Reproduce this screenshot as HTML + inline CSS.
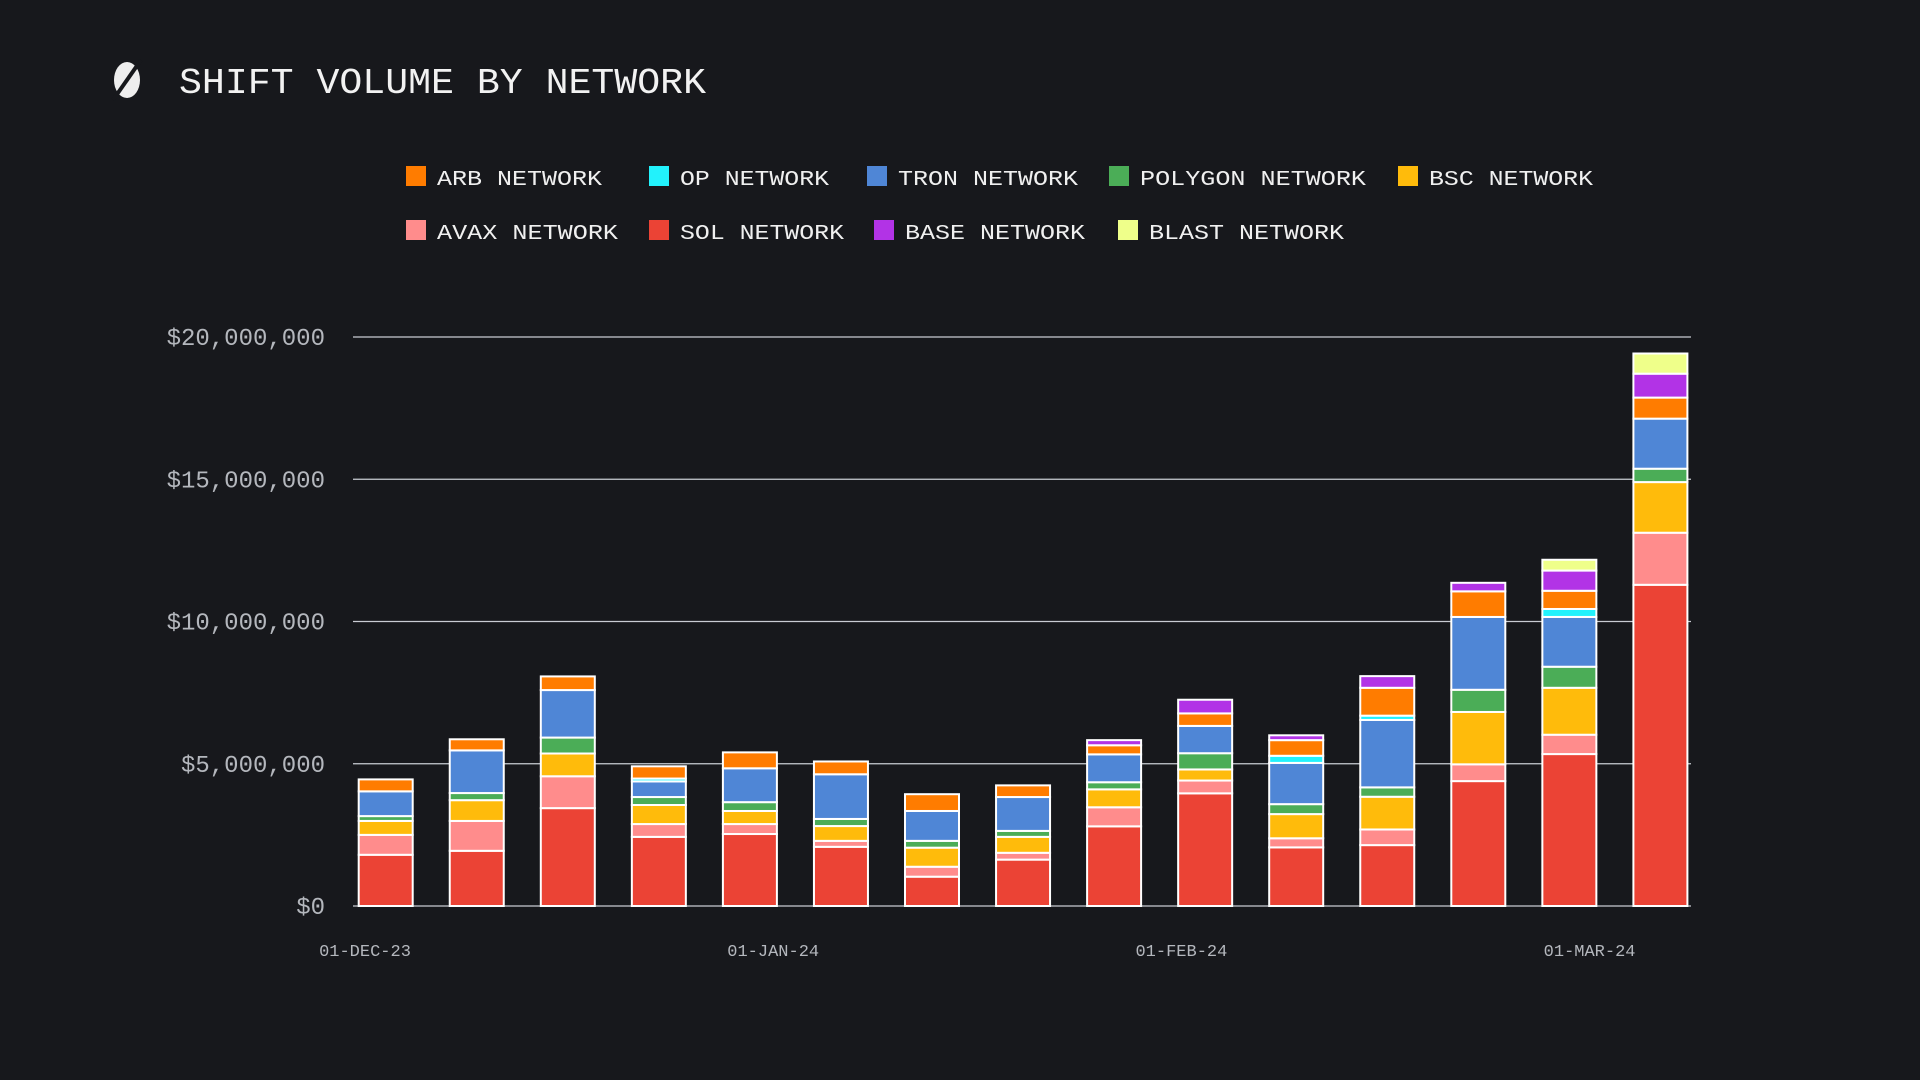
<!DOCTYPE html>
<html><head><meta charset="utf-8"><style>
html,body{margin:0;padding:0;background:#17181c;width:1920px;height:1080px;overflow:hidden}
svg text{font-family:"Liberation Mono","DejaVu Sans Mono",monospace}
</style></head><body>
<svg id="chart" width="1920" height="1080" viewBox="0 0 1920 1080" xmlns="http://www.w3.org/2000/svg">
<rect width="1920" height="1080" fill="#17181c"/>
<g>
<ellipse cx="127" cy="80" rx="13" ry="18" fill="#eeeeee"/>
<line x1="113" y1="100" x2="141" y2="60" stroke="#17181c" stroke-width="4"/>
</g>
<text x="179" y="93" font-size="36" fill="#f2f2f2" textLength="527" lengthAdjust="spacingAndGlyphs">SHIFT VOLUME BY NETWORK</text>
<g id="legend"></g>
<g id="grid"></g>
<g id="bars"></g>
<g id="axes"></g>
</svg>
<script>
const seriesNames = ["SOL NETWORK","AVAX NETWORK","BSC NETWORK","POLYGON NETWORK","TRON NETWORK","OP NETWORK","ARB NETWORK","BASE NETWORK","BLAST NETWORK"];
const seriesColors = ["#eb4335","#ff8c8c","#ffbb0b","#4bad57","#4f86d6","#22f2fc","#ff7c00","#b233e6","#efff8a"];
const weeks = [0,1,2,3,4,5,6,7,8,9,10,11,12,13,14];
const sol     = [1.80,1.94,3.44,2.43,2.53,2.08,1.03,1.63,2.80,3.96,2.06,2.14,4.39,5.34,11.29];
const avax    = [0.70,1.05,1.12,0.45,0.35,0.21,0.35,0.24,0.67,0.45,0.32,0.55,0.59,0.68,1.83];
const bsc     = [0.49,0.73,0.80,0.67,0.46,0.52,0.67,0.56,0.63,0.39,0.85,1.15,1.84,1.65,1.78];
const polygon = [0.17,0.25,0.56,0.28,0.31,0.25,0.24,0.21,0.25,0.57,0.35,0.33,0.78,0.74,0.47];
const tron    = [0.87,1.50,1.67,0.55,1.19,1.57,1.05,1.19,0.98,0.96,1.45,2.37,2.56,1.75,1.76];
const op      = [0,0,0,0.10,0,0,0,0,0,0,0.25,0.15,0,0.28,0];
const arb     = [0.42,0.39,0.48,0.43,0.56,0.45,0.59,0.41,0.32,0.44,0.55,0.98,0.90,0.64,0.74];
const base    = [0,0,0,0,0,0,0,0,0.18,0.48,0.17,0.41,0.30,0.71,0.84];
const blast   = [0,0,0,0,0,0,0,0,0,0,0,0,0,0.38,0.71];
const yTicks = [0,5,10,15,20];
const yTickLabels = ["$0","$5,000,000","$10,000,000","$15,000,000","$20,000,000"];
const xTickMonths = [0,1,2,3];
const xTickLabels = ["01-DEC-23","01-JAN-24","01-FEB-24","01-MAR-24"];
const legendOrder = [6,5,4,3,2,1,0,7,8];

const NS="http://www.w3.org/2000/svg";
function el(tag,attrs,parent){const e=document.createElementNS(NS,tag);for(const k in attrs)e.setAttribute(k,attrs[k]);parent.appendChild(e);return e;}
const y0=906, pxPerM=28.45;
function yScale(v){return y0 - v*pxPerM;}
function xScale(i){return 385.7 + i*91.05;}
function xMonth(m){return 365 + m*408.2;}
const series=[sol,avax,bsc,polygon,tron,op,arb,base,blast];

const grid=document.getElementById('grid');
const axes=document.getElementById('axes');
yTicks.forEach((t,i)=>{
  const y=yScale(t);
  if(t>0){
    const l=el('line',{x1:353,x2:1691,y1:y,y2:y,stroke:'#c9ccd3','stroke-width':1.3},grid);
    
    
  }
  const tx=el('text',{x:325,y:y+8,'text-anchor':'end','font-size':24,fill:'#b4b7bd'},axes);
  tx.textContent=yTickLabels[i];
  
  
});
const base0=el('line',{x1:353,x2:1691,y1:y0,y2:y0,stroke:'#c9ccd3','stroke-width':1.3},grid);


xTickMonths.forEach((m,i)=>{
  const tx=el('text',{x:xMonth(m),y:956,'text-anchor':'middle','font-size':17,fill:'#b4b7bd'},axes);
  tx.textContent=xTickLabels[i];
  
  
});

const bars=document.getElementById('bars');
const bw=54;
weeks.forEach((w,i)=>{
  let acc=0;
  const g=el('g',{},bars);
  
  
  series.forEach((s,k)=>{
    const v=s[i]; if(!v) return;
    const top=yScale(acc+v), bot=yScale(acc);
    const r=el('rect',{x:xScale(w)-bw/2,y:top,width:bw,height:bot-top,fill:seriesColors[k],stroke:'#ffffff','stroke-width':2},g);
    
    
    acc+=v;
  });
});

const legend=document.getElementById('legend');
const legPos=[[406,166],[649,166],[867,166],[1109,166],[1398,166],[406,220],[649,220],[874,220],[1118,220]];
const legW=[165,149,180,226,164,181,164,180,195];
legendOrder.forEach((k,j)=>{
  const [x,y]=legPos[j];
  const g=el('g',{},legend);
  
  
  el('rect',{x:x,y:y,width:20,height:20,fill:seriesColors[k]},g);
  const t=el('text',{x:x+31,y:y+19,'font-size':21,fill:'#f0f0f0',textLength:legW[j],lengthAdjust:'spacingAndGlyphs'},g);
  t.textContent=seriesNames[k];
});
</script>
</body></html>
